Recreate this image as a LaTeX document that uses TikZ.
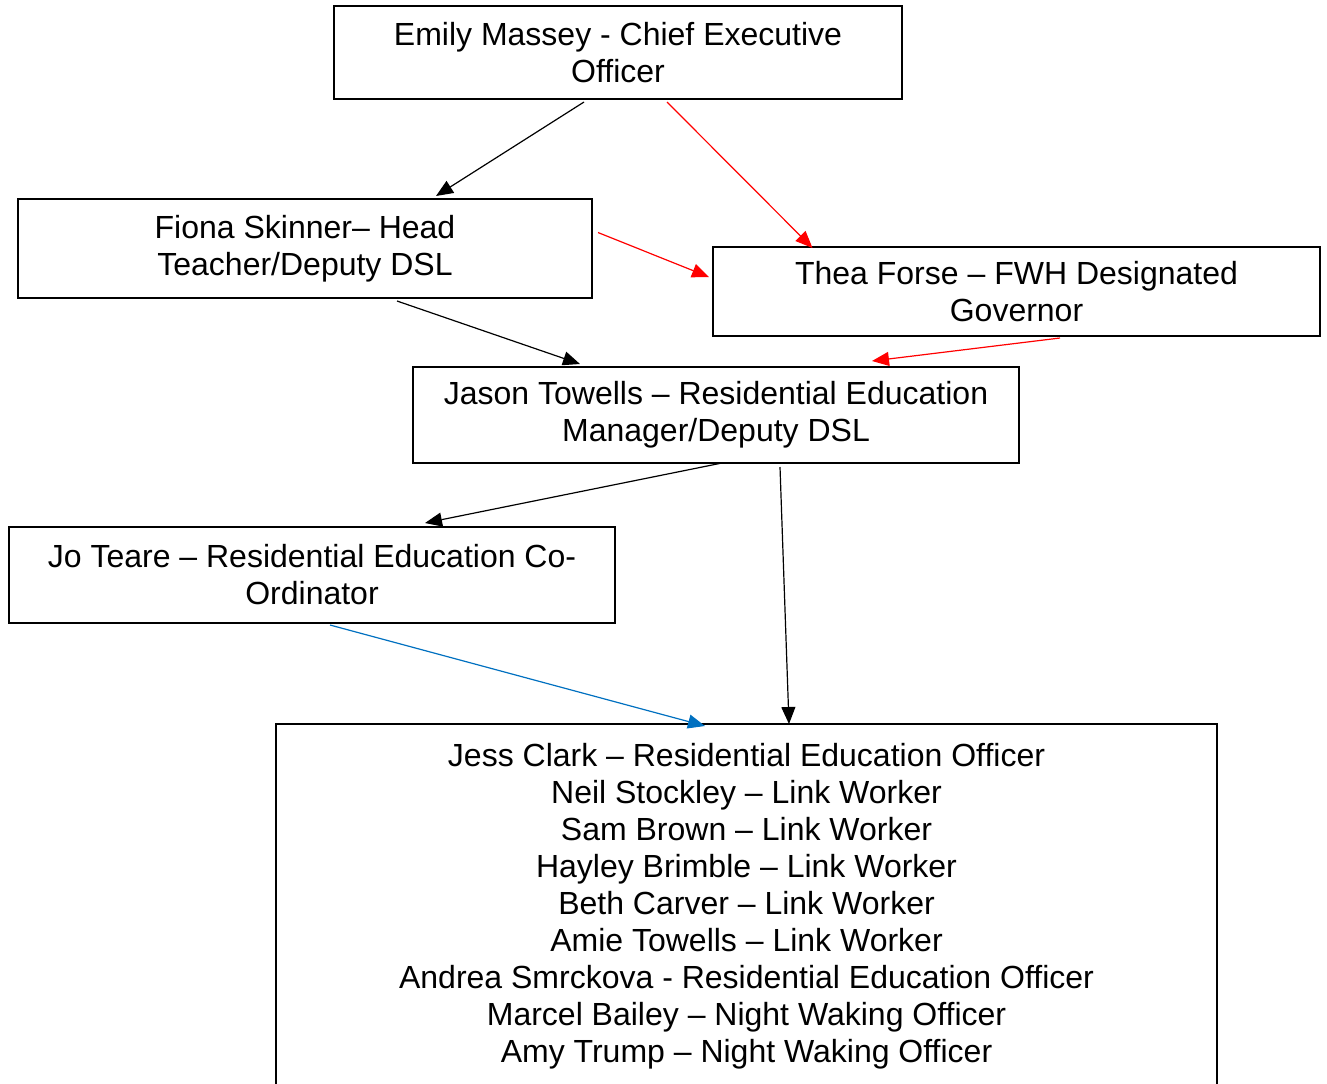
\documentclass[tikz,border=0pt]{standalone}
\usepackage{fontspec}
\setmainfont{Liberation Sans}
\usetikzlibrary{arrows.meta}
\definecolor{linkblue}{RGB}{0,112,192}

\begin{document}
\begin{tikzpicture}[x=0.5pt,y=-0.5pt,
        namebox/.style={draw,line width=1pt,rectangle,align=center,inner sep=0pt,font=\fontsize{16}{18.5}\selectfont},
        link/.style={line width=0.6pt,-{Triangle[length=8.5pt,width=7pt]}}]
        \useasboundingbox (0,0) rectangle (1327,1083);
        %% Boxes
        \node[namebox,minimum width=284pt,minimum height=46.5pt] (emily) at (618,52.5) {Emily Massey - Chief Executive\\Officer};
        \node[namebox,minimum width=287pt,minimum height=49.5pt] (fiona) at (305,248.5) {Fiona Skinner– Head\\Teacher/Deputy DSL};
        \node[namebox,minimum width=303.5pt,minimum height=44.5pt] (thea) at (1016.5,291.5) {Thea Forse – FWH Designated\\Governor};
        \node[namebox,minimum width=303pt,minimum height=48pt] (jason) at (716,415) {Jason Towells – Residential Education\\Manager/Deputy DSL};
        \node[namebox,minimum width=303pt,minimum height=48pt] (jo) at (312,575) {Jo Teare – Residential Education Co-\\Ordinator};
        %% Staff (box runs off the page)
        \node[namebox,draw=none,minimum width=469.5pt,minimum height=181.5pt] (staff) at (746.5,906.5) {Jess Clark – Residential Education Officer\\Neil Stockley – Link Worker\\Sam Brown – Link Worker\\Hayley Brimble – Link Worker\\Beth Carver – Link Worker\\Amie Towells – Link Worker\\Andrea Smrckova - Residential Education Officer\\Marcel Bailey – Night Waking Officer\\Amy Trump – Night Waking Officer};
        \draw[line width=1pt] ([yshift=-10pt]staff.south west) |- (staff.north east) -- ([yshift=-10pt]staff.south east);
        %% Lines
        \draw[link] ([xshift=-17pt,yshift=-1pt]emily.south) -- ([xshift=65.5pt,yshift=1pt]fiona.north);
        \draw[link,red] ([xshift=24.5pt,yshift=-1pt]emily.south) -- ([xshift=-102pt,yshift=-1pt]thea.north);
        \draw[link,red] ([xshift=2.5pt,yshift=8pt]fiona.east) -- ([xshift=-1.5pt,yshift=7.25pt]thea.west);
        \draw[link] ([xshift=46pt,yshift=-1pt]fiona.south) -- ([xshift=-68pt,yshift=1pt]jason.north);
        \draw[link,red] ([xshift=21.75pt,yshift=-0.5pt]thea.south) -- ([xshift=78pt,yshift=2.5pt]jason.north);
        \draw[link] ([xshift=3pt,yshift=0.5pt]jason.south) -- ([xshift=56.5pt,yshift=1.5pt]jo.north);
        \draw[link] ([xshift=32pt,yshift=-1.5pt]jason.south) -- ([xshift=21.25pt]staff.north);
        \draw[link,linkblue] ([xshift=9pt,yshift=-0.5pt]jo.south) -- ([xshift=-20.75pt,yshift=-1pt]staff.north);
\end{tikzpicture}
\end{document}
